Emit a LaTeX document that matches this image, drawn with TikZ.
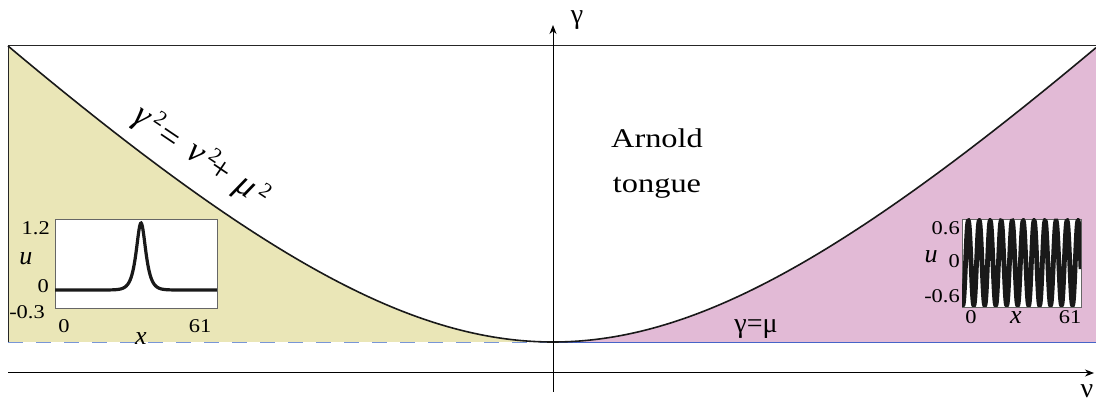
\documentclass[tikz,border=0pt]{standalone}
\usepackage{fontspec}
\setmainfont{Liberation Serif}
\usetikzlibrary{arrows.meta}
\definecolor{yfill}{RGB}{234,230,183}
\definecolor{pfill}{RGB}{226,186,214}
\definecolor{bline}{RGB}{70,100,200}
\definecolor{dline}{RGB}{120,150,215}
\newcommand{\supt}[1]{\makebox[0pt]{\raisebox{#1}{\fontsize{21}{24}\selectfont\upshape 2}}}
\begin{document}
\begin{tikzpicture}[x=1pt,y=-1pt,
  declare function={tongue(\t)=342-100*(sqrt((\t/100)*(\t/100)+3.537*3.537)-3.537);},
  frameline/.style={line width=1pt, black!85},
  axisline/.style={line width=1pt, black, -{Stealth[length=9pt,width=7pt]}},
  insetbox/.style={draw=black!60, line width=0.8pt, fill=white},
  tick/.style={font=\fontsize{19.5}{22}\selectfont, xscale=1.15, inner sep=0pt},
  itick/.style={font=\fontsize{26}{28}\selectfont\itshape, inner sep=0pt},
  greek/.style={font=\fontsize{28}{30}\selectfont, inner sep=0pt},
  big/.style={font=\fontsize{27}{30}\selectfont, xscale=1.2, inner sep=0pt}]
\useasboundingbox (0,0) rectangle (1096,403);
\fill[white] (0,0) rectangle (1096,403);
% filled regions
\fill[yfill] (8,342) -- (8,46) -- plot[domain=-545:0,samples=160] ({553+\x},{tongue(\x)}) -- cycle;
\fill[pfill] (553,342) -- plot[domain=0:543,samples=160] ({553+\x},{tongue(\x)}) -- (1096,342) -- cycle;
% base lines
\coordinate (bl) at (8,342);
\coordinate (bm) at (553,342);
\coordinate (br) at (1096,342);
\coordinate (tl) at (8,46);
\coordinate (tr) at (1096,46);
\draw[dline, line width=0.9pt, dash pattern=on 15pt off 13pt] (bl) -- (bm);
\draw[bline, line width=0.9pt] (bm) -- (br);
\draw[frameline] (bl) -- (tl) -- (tr);
% tongue curve
\draw[line width=1.6pt, black!90] plot[domain=-545:543,samples=300] ({553+\x},{tongue(\x)});
% axes
\coordinate (vb) at (553,392);
\coordinate (vt) at (553,25);
\coordinate (hl) at (8,373);
\coordinate (hr) at (1094,373);
\draw[axisline] (vb) -- (vt);
\draw[axisline] (hl) -- (hr);
\node[greek] (gam) at (577,20) {γ};
\node[greek] (nu) at (1087,391) {ν};
\node[greek] (gm) at (756,329) {γ=μ};
% curve label
\node[rotate=-34, anchor=base west, inner sep=0pt, font=\fontsize{35}{40}\selectfont\itshape] (eq) at (136.8,124.2)
  {\makebox[0pt]{γ}\kern17pt\supt{10.8pt}\kern17pt\makebox[0pt]{\raisebox{-3pt}{\upshape =}}\kern31pt\makebox[0pt]{ν}\kern18pt\supt{10.8pt}\kern12pt\makebox[0pt]{\raisebox{-2pt}{\upshape +}}\kern30pt\makebox[0pt]{μ}\kern19pt\supt{10pt}};
\node[big, anchor=base] (arn) at (657,148) {Arnold};
\node[big, anchor=base] (ton) at (657,193) {tongue};
% left inset
\draw[insetbox] (55,219) rectangle (217,308);
\begin{scope}
\clip (55,219) rectangle (217,308);
\draw[line width=3.2pt, black!90] plot[domain=55:217,samples=300] (\x,{290-67/cosh(min(abs((\x-141)/4.2),9))});
\end{scope}
\node[tick, anchor=base east] (l12) at (50,235) {1.2};
\node[itick, anchor=base] (lu) at (26,265) {u};
\node[tick, anchor=base east] (l0) at (49,293) {0};
\node[tick, anchor=base east] (lm) at (45,319) {-0.3};
\node[tick, anchor=base] (lx0) at (64,333) {0};
\node[tick, anchor=base] (lx61) at (200,333) {61};
\node[itick, anchor=base] (lx) at (141,345) {x};
% right inset
\draw[insetbox] (962,219) rectangle (1081,307);
\begin{scope}
\clip (962,219) rectangle (1081,307);
\draw[line width=4.8pt, black!90] plot[domain=962:1081,samples=600] (\x,{263-42*cos((\x-968.3)*32.8168)});
\end{scope}
\node[tick, anchor=base east] (r06) at (960,235) {0.6};
\node[itick, anchor=base] (ru) at (931,263) {u};
\node[tick, anchor=base east] (r0) at (960,268) {0};
\node[tick, anchor=base east] (rm) at (960,303) {-0.6};
\node[tick, anchor=base] (rx0) at (971,324) {0};
\node[itick, anchor=base] (rx) at (1016,324) {x};
\node[tick, anchor=base] (rx61) at (1070,324) {61};
\end{tikzpicture}
\end{document}
